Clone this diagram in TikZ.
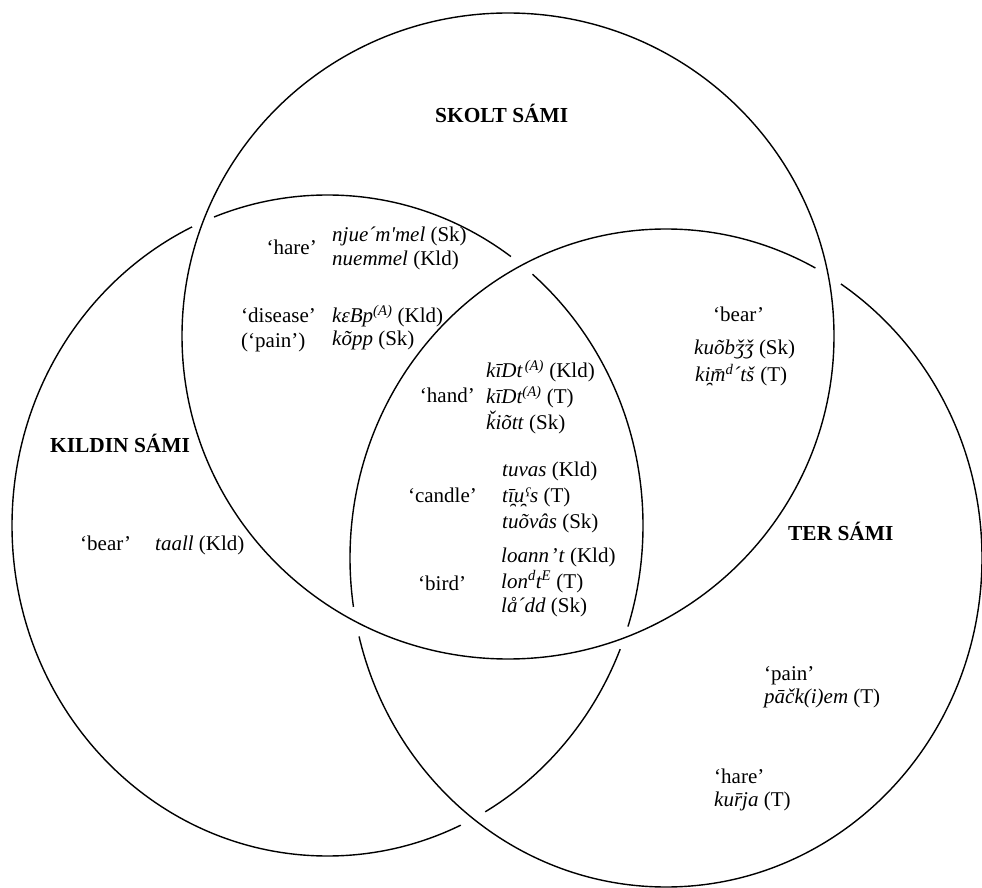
\documentclass[tikz,border=0pt]{standalone}
\usepackage{fontspec}
\setmainfont{Liberation Serif}
\usetikzlibrary{intersections}
\begin{document}
\begin{tikzpicture}[x=1pt,y=1pt,
  circ/.style={line width=1.4pt},
  gapdisc/.style={fill=white},
  txt/.style={anchor=base west,inner sep=0pt,font=\fontsize{21}{25}\selectfont},
  txe/.style={anchor=base east,inner sep=0pt,font=\fontsize{21}{25}\selectfont},
  head/.style={anchor=base west,inner sep=0pt,font=\fontsize{21.4}{25}\selectfont\bfseries}]
\useasboundingbox (0,0) rectangle (982,887);
\fill[white] (0,0) rectangle (982,887);
\path[name path=K] (327.5,361.5) ellipse [x radius=315.5,y radius=330.5];
\path[name path=S] (508,551) ellipse [x radius=326,y radius=323];
\path[name path=T] (666,329) ellipse [x radius=316,y radius=329];
% Kildin
\draw[circ] (327.5,361.5) ellipse [x radius=315.5,y radius=330.5];
\path[name intersections={of=K and S,name=ks}];
\path[name intersections={of=K and T,name=kt}];
\fill[gapdisc] (ks-1) circle (12) (ks-2) circle (12);
\fill[gapdisc] (kt-1) circle (14) (kt-2) circle (14);
% Ter
\draw[circ] (666,329) ellipse [x radius=316,y radius=329];
\path[name intersections={of=T and S,name=ts}];
\fill[gapdisc] (ts-1) circle (15) (ts-2) circle (15);
% Skolt
\draw[circ] (508,551) ellipse [x radius=326,y radius=323];
% headings
\node[head] (hS) at (435,764) {SKOLT SÁMI};
\node[head] (hK) at (50,434) {KILDIN SÁMI};
\node[head] (hT) at (788,346) {TER SÁMI};
% Skolt-Kildin
\node[txe] (g1) at (317,632) {‘hare’};
\node[txt] (w1) at (332,645) {\textit{njue´m\textquotesingle mel} (Sk)};
\node[txt] (w2) at (332,621) {\textit{nuemmel} (Kld)};
\node[txt] (g2) at (241,564) {‘disease’};
\node[txt] (g3) at (241,539) {(‘pain’)};
\node[txt] (w3) at (332,564) {\textit{kɛBp\textsuperscript{(A)}} (Kld)};
\node[txt] (w4) at (332,541) {\textit{kõpp} (Sk)};
% Skolt-Ter
\node[txt] (g4) at (713,565) {‘bear’};
\node[txt] (w5) at (694,532) {\textit{kuõbǯǯ} (Sk)};
\node[txt] (w6) at (695,505) {\textit{ki̯m̄\textsuperscript{d}´tš} (T)};
% centre
\node[txe] (g5) at (475,484) {‘hand’};
\node[txt] (w7) at (486,509) {\textit{kīDt\textsuperscript{\,(A)}} (Kld)};
\node[txt] (w8) at (486,483) {\textit{kīDt\textsuperscript{(A)}} (T)};
\node[txt] (w9) at (486,457) {\textit{ǩiõtt} (Sk)};
\node[txe] (g6) at (477,384) {‘candle’};
\node[txt] (w10) at (502,410) {\textit{tuvas} (Kld)};
\node[txt] (w11) at (502,384) {\textit{tī̯u̯ˤs} (T)};
\node[txt] (w12) at (502,359) {\textit{tuõvâs} (Sk)};
\node[txt] (g7) at (418,297) {‘bird’};
\node[txt] (w13) at (501,325) {\textit{loann\kern1.5pt’\kern1pt t} (Kld)};
\node[txt] (w14) at (501,299) {\textit{lon\textsuperscript{d}t\textsuperscript{E}} (T)};
\node[txt] (w15) at (501,275) {\textit{lå´dd} (Sk)};
% Kildin only
\node[txt] (g8) at (80,337) {‘bear’};
\node[txt] (w16) at (155,337) {\textit{taall} (Kld)};
% Ter only
\node[txt] (g9) at (764,207) {‘pain’};
\node[txt] (w17) at (764,184) {\textit{pāčk(i)em} (T)};
\node[txt] (g10) at (714,104) {‘hare’};
\node[txt] (w18) at (714,81) {\textit{kur̄ja} (T)};
\end{tikzpicture}
\end{document}
